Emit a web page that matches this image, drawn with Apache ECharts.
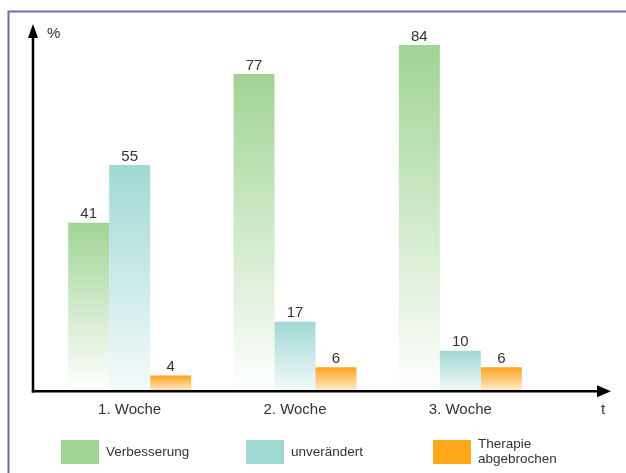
<!DOCTYPE html>
<html>
<head>
<meta charset="utf-8">
<script src="https://cdn.jsdelivr.net/npm/echarts@6/dist/echarts.min.js"></script>
<style>html,body{margin:0;padding:0;background:#fff;}#c{width:626px;height:473px;}</style>
</head>
<body>
<div id="c"></div>
<script>
const categories = ['1. Woche', '2. Woche', '3. Woche'];
const seriesNames = ['Verbesserung', 'unverändert', 'Therapie abgebrochen'];
const verbesserung = [41, 77, 84];
const unveraendert = [55, 17, 10];
const abgebrochen = [4, 6, 6];

const FONT = "'Liberation Sans', Arial, sans-serif";
const topColors = ['#a0d494', '#a0d8d4', '#ffa31c'];
const bottomColors = ['#ffffff', '#f4fbfb', '#fff0da'];
const legendColors = ['#a0d494', '#a0d8d4', '#ffa61b'];

function grad(i) {
  return new echarts.graphic.LinearGradient(0, 0, 0, 1, [
    { offset: 0, color: topColors[i] },
    { offset: 1, color: bottomColors[i] }
  ]);
}

const chart = echarts.init(document.getElementById('c'), null, { renderer: 'canvas' });
const dataSets = [verbesserung, unveraendert, abgebrochen];
const legendLefts = [61, 246, 433];

chart.setOption({
  animation: false,
  backgroundColor: '#fff',
  grid: { left: 47, right: 83, top: 28.6, bottom: 81, containLabel: false },
  xAxis: {
    type: 'category',
    data: categories,
    axisLine: { show: false },
    axisTick: { show: false },
    axisLabel: { fontSize: 15, color: '#333', fontFamily: FONT, margin: 10 }
  },
  yAxis: {
    type: 'value', min: 0, max: 88,
    axisLine: { show: false }, axisTick: { show: false },
    axisLabel: { show: false }, splitLine: { show: false }
  },
  legend: seriesNames.map((n, i) => ({
    data: [{ name: n, itemStyle: { color: legendColors[i] } }],
    left: legendLefts[i], top: i === 2 ? 437 : 440, padding: 0,
    itemWidth: 38, itemHeight: 24, icon: 'rect',
    selectedMode: false,
    formatter: (name) => name.replace(' ', '\n'),
    textStyle: { fontSize: 13.5, color: '#333', fontFamily: FONT, lineHeight: 15, padding: i === 2 ? [0, 0, 0, 2] : [2, 0, 0, 2] }
  })),
  series: dataSets.map((d, i) => ({
    type: 'bar',
    name: seriesNames[i],
    data: d,
    barWidth: 41,
    barGap: '0%',
    itemStyle: { color: grad(i) },
    label: { show: true, position: 'top', distance: 1, fontSize: 15, color: '#333', fontFamily: FONT }
  })),
  graphic: [
    { type: 'polyline', z: 100, shape: { points: [[8.5, 473], [8.5, 11.5], [626, 11.5]] }, style: { stroke: '#6c6cae', lineWidth: 2, fill: null } },
    { type: 'line', z: 100, shape: { x1: 33, y1: 36, x2: 33, y2: 392.5 }, style: { stroke: '#000', lineWidth: 2.5 } },
    { type: 'polygon', z: 100, shape: { points: [[33, 24], [28, 38], [38, 38]] }, style: { fill: '#000' } },
    { type: 'line', z: 100, shape: { x1: 31.8, y1: 391.2, x2: 599, y2: 391.2 }, style: { stroke: '#000', lineWidth: 2.5 } },
    { type: 'polygon', z: 100, shape: { points: [[611, 391.2], [597, 385.2], [597, 397.2]] }, style: { fill: '#000' } },
    { type: 'text', z: 100, left: 47, top: 26, style: { text: '%', fontSize: 15, fill: '#333', fontFamily: FONT } },
    { type: 'text', z: 100, left: 601, top: 402, style: { text: 't', fontSize: 15, fill: '#333', fontFamily: FONT } }
  ]
});
</script>
</body>
</html>
